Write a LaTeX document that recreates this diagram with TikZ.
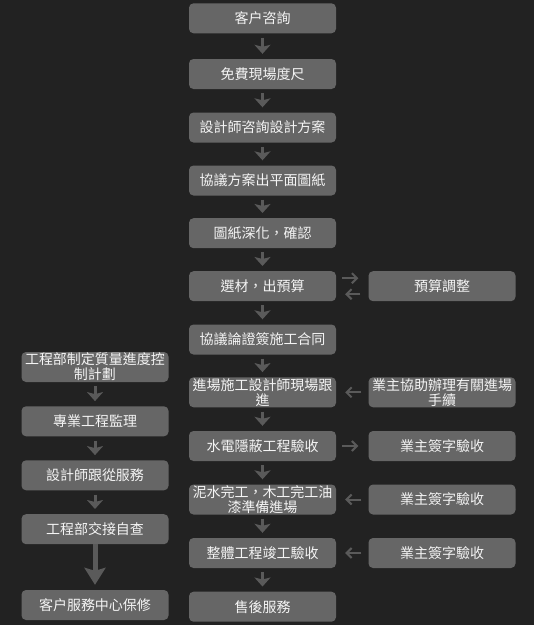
\documentclass[tikz,border=0pt]{standalone}
\usepackage{fontspec}
\newfontfamily\cjk{Noto Sans CJK TC}
\usetikzlibrary{arrows.meta}
\definecolor{bgc}{HTML}{222222}
\definecolor{boxc}{HTML}{666666}
\definecolor{arrc}{HTML}{5A5A5A}
\definecolor{txtc}{HTML}{F4F4F4}
\begin{document}
\begin{tikzpicture}[x=1pt,y=-1pt,
  stepbox/.style={fill=boxc, rounded corners=4.5pt, minimum width=147pt, minimum height=30pt,
    inner sep=0pt, align=center, text=txtc, font=\cjk\fontsize{14}{15}\selectfont},
  varr/.style={draw=arrc, line width=3pt, -{Stealth[length=9pt,width=16pt,inset=2pt]},
    shorten <=4pt, shorten >=5pt},
  bigarr/.style={draw=arrc, line width=5pt, -{Stealth[length=17pt,width=21pt,inset=3pt]},
    shorten >=5pt},
  harr/.style={draw=arrc, line width=2pt, -{Straight Barb[length=5pt,width=10pt]}},
]
\fill[bgc] (0,0) rectangle (534,625);
\useasboundingbox (0,0) rectangle (534,625);
% centre column
\node[stepbox] (c1) at (262.5,18.3) {客户咨詢};
\node[stepbox] (c2) at (262.5,74) {免費現場度尺};
\node[stepbox] (c3) at (262.5,127.5) {設計師咨詢設計方案};
\node[stepbox] (c4) at (262.5,180.5) {協議方案出平面圖紙};
\node[stepbox] (c5) at (262.5,233.2) {圖紙深化，確認};
\node[stepbox] (c6) at (262.5,286.2) {選材，出預算};
\node[stepbox] (c7) at (262.5,339.5) {協議論證簽施工合同};
\node[stepbox] (c8) at (262.5,392.3) {進場施工設計師現場跟\\進};
\node[stepbox] (c9) at (262.5,446) {水電隱蔽工程驗收};
\node[stepbox] (c10) at (262.5,499.5) {泥水完工，木工完工油\\漆準備進場};
\node[stepbox] (c11) at (262.5,553) {整體工程竣工驗收};
\node[stepbox] (c12) at (262.5,606.7) {售後服務};
% right column
\node[stepbox] (r6) at (442,286.2) {預算調整};
\node[stepbox] (r8) at (442,392.3) {業主協助辦理有關進場\\手續};
\node[stepbox] (r9) at (442,446) {業主簽字驗收};
\node[stepbox] (r10) at (442,499.5) {業主簽字驗收};
\node[stepbox] (r11) at (442,553) {業主簽字驗收};
% left column
\node[stepbox] (l1) at (95,367) {工程部制定質量進度控\\制計劃};
\node[stepbox] (l2) at (95,421.3) {專業工程監理};
\node[stepbox] (l3) at (95,475.3) {設計師跟從服務};
\node[stepbox] (l4) at (95,529.2) {工程部交接自查};
\node[stepbox] (l5) at (95,605) {客户服務中心保修};
% vertical arrows centre
\foreach \a/\b in {c1/c2,c2/c3,c3/c4,c4/c5,c5/c6,c6/c7,c7/c8,c8/c9,c9/c10,c10/c11,c11/c12}
  \draw[varr] (\a.south) -- (\b.north);
% vertical arrows left
\foreach \a/\b in {l1/l2,l2/l3,l3/l4}
  \draw[varr] (\a.south) -- (\b.north);
\draw[bigarr] (l4.south) -- (l5.north);
% horizontal arrows
\draw[harr, shorten <=6pt, shorten >=10pt] ([yshift=8pt]c6.east) -- ([yshift=8pt]r6.west);
\draw[harr, shorten <=8pt, shorten >=9pt] ([yshift=-8pt]r6.west) -- ([yshift=-8pt]c6.east);
\draw[harr, shorten <=7pt, shorten >=9pt] (r8.west) -- (c8.east);
\draw[harr, shorten <=6pt, shorten >=10pt] (c9.east) -- (r9.west);
\draw[harr, shorten <=7pt, shorten >=9pt] (r10.west) -- (c10.east);
\draw[harr, shorten <=7pt, shorten >=9pt] (r11.west) -- (c11.east);
\end{tikzpicture}
\end{document}
